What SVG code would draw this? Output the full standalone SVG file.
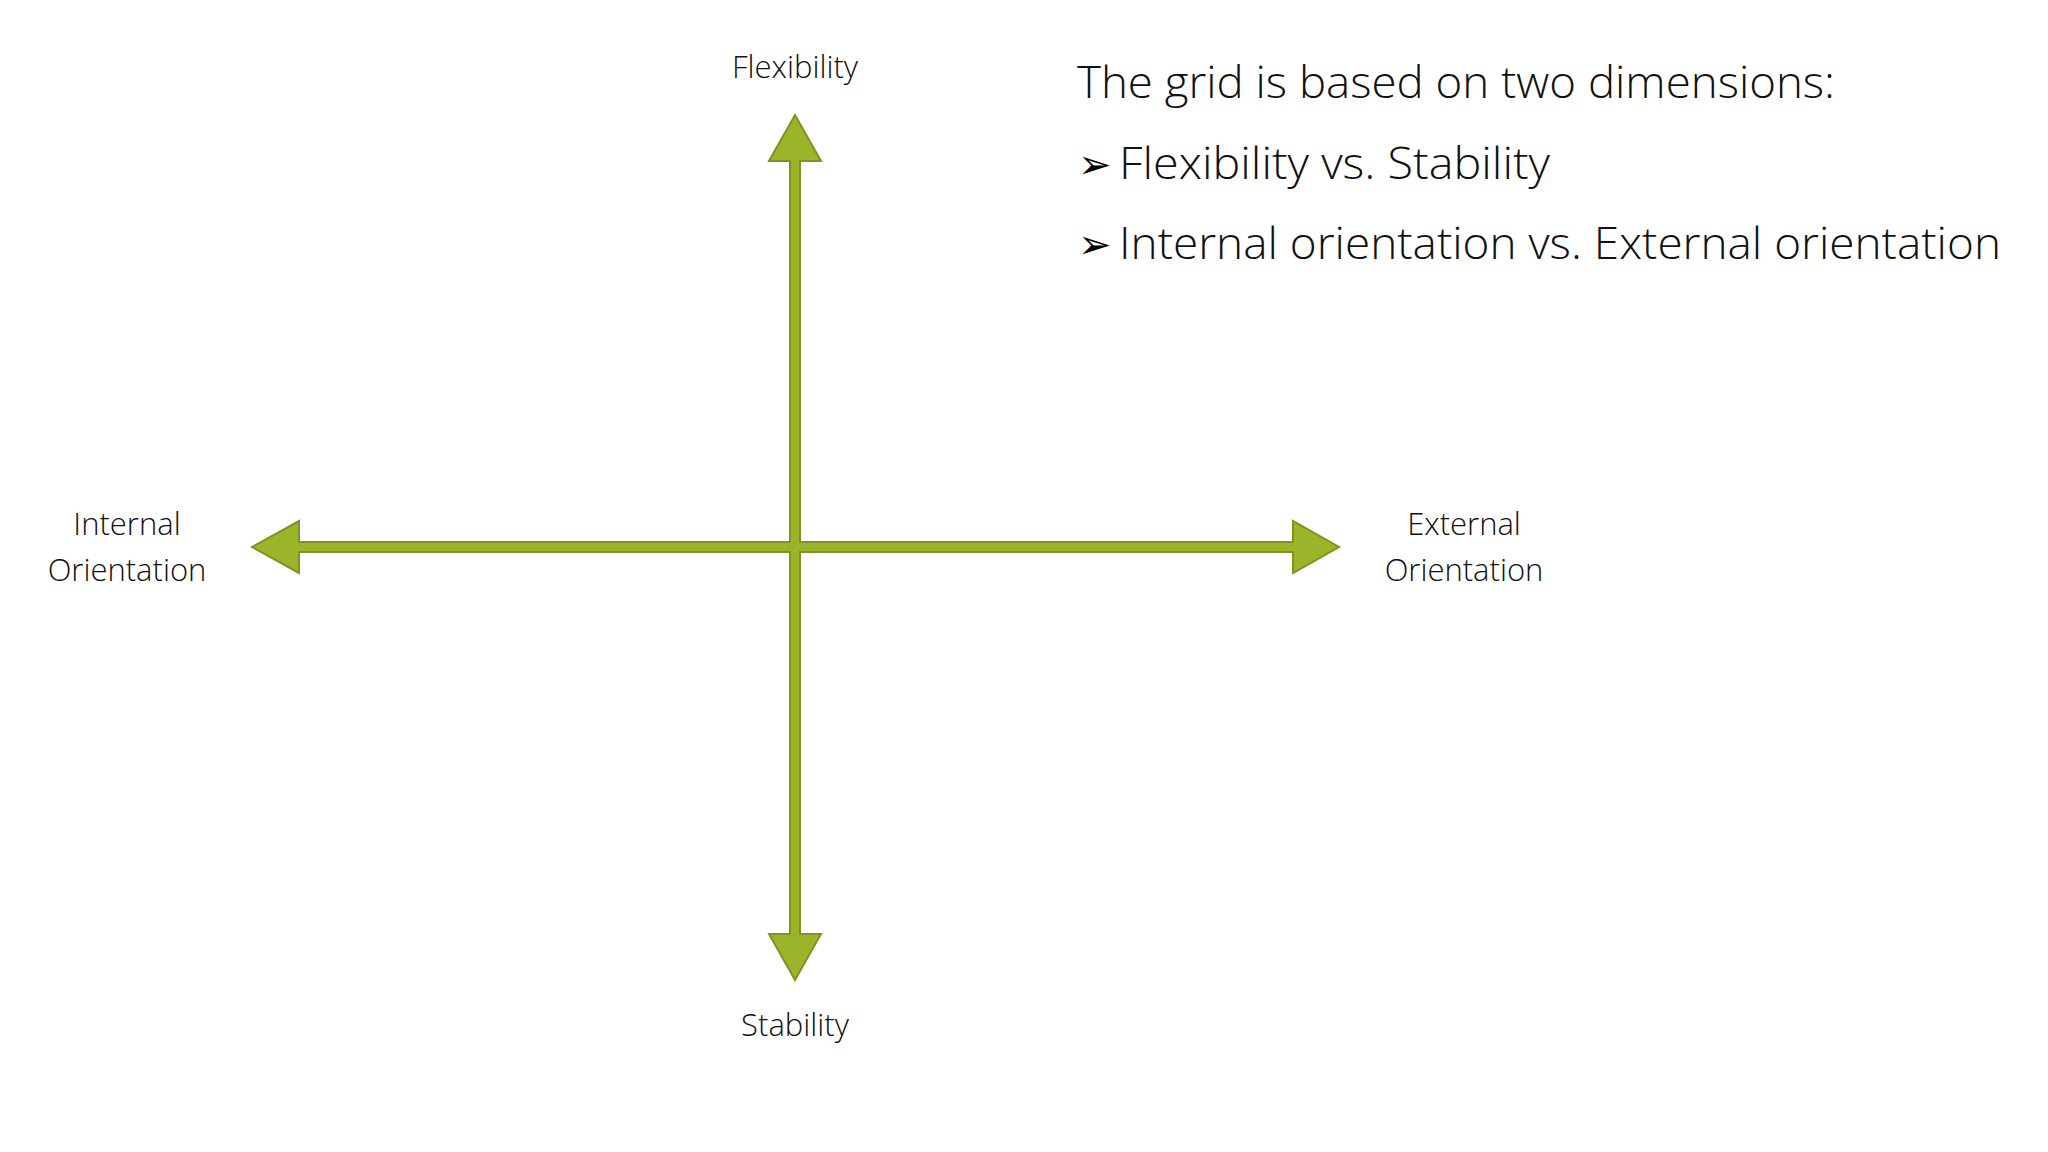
<svg xmlns="http://www.w3.org/2000/svg" width="2048" height="1152" viewBox="0 0 2048 1152">
<style>
.lbl{font-family:"Open Sans","Liberation Sans",sans-serif;font-weight:300;font-size:31px;fill:#111;text-anchor:middle}
.big{font-family:"Open Sans","Liberation Sans",sans-serif;font-weight:300;font-size:45px;fill:#111}
.bul{font-family:"DejaVu Sans",sans-serif;font-size:40px;fill:#000}
.arr{fill:#9BB52A;stroke:#7E9420;stroke-width:2}
</style>
<rect width="2048" height="1152" fill="#fff"/>
<g id="connectors">
<polygon class="arr" points="795,115 821,161 800,161 800,542 1293,542 1293,521 1339,547 1293,573 1293,552 800,552 800,934 821,934 795,980 769,934 790,934 790,552 299,552 299,573 252,547 299,521 299,542 790,542 790,161 769,161"/>
</g>
<g id="flex"><text class="lbl" x="795" y="78">Flexibility</text></g>
<g id="stab"><text class="lbl" x="795" y="1036">Stability</text></g>
<g id="internal"><text class="lbl" x="127" y="535">Internal</text><text class="lbl" x="127" y="581">Orientation</text></g>
<g id="external"><text class="lbl" x="1464" y="535">External</text><text class="lbl" x="1464" y="581">Orientation</text></g>
<g id="notes">
<text class="big" x="1077" y="98" textLength="758" lengthAdjust="spacingAndGlyphs">The grid is based on two dimensions:</text>
<text class="bul" x="1078" y="178">➢</text>
<text class="big" x="1119" y="179" textLength="431" lengthAdjust="spacingAndGlyphs">Flexibility vs. Stability</text>
<text class="bul" x="1078" y="258">➢</text>
<text class="big" x="1119" y="259" textLength="882" lengthAdjust="spacingAndGlyphs">Internal orientation vs. External orientation</text>
</g>
</svg>
